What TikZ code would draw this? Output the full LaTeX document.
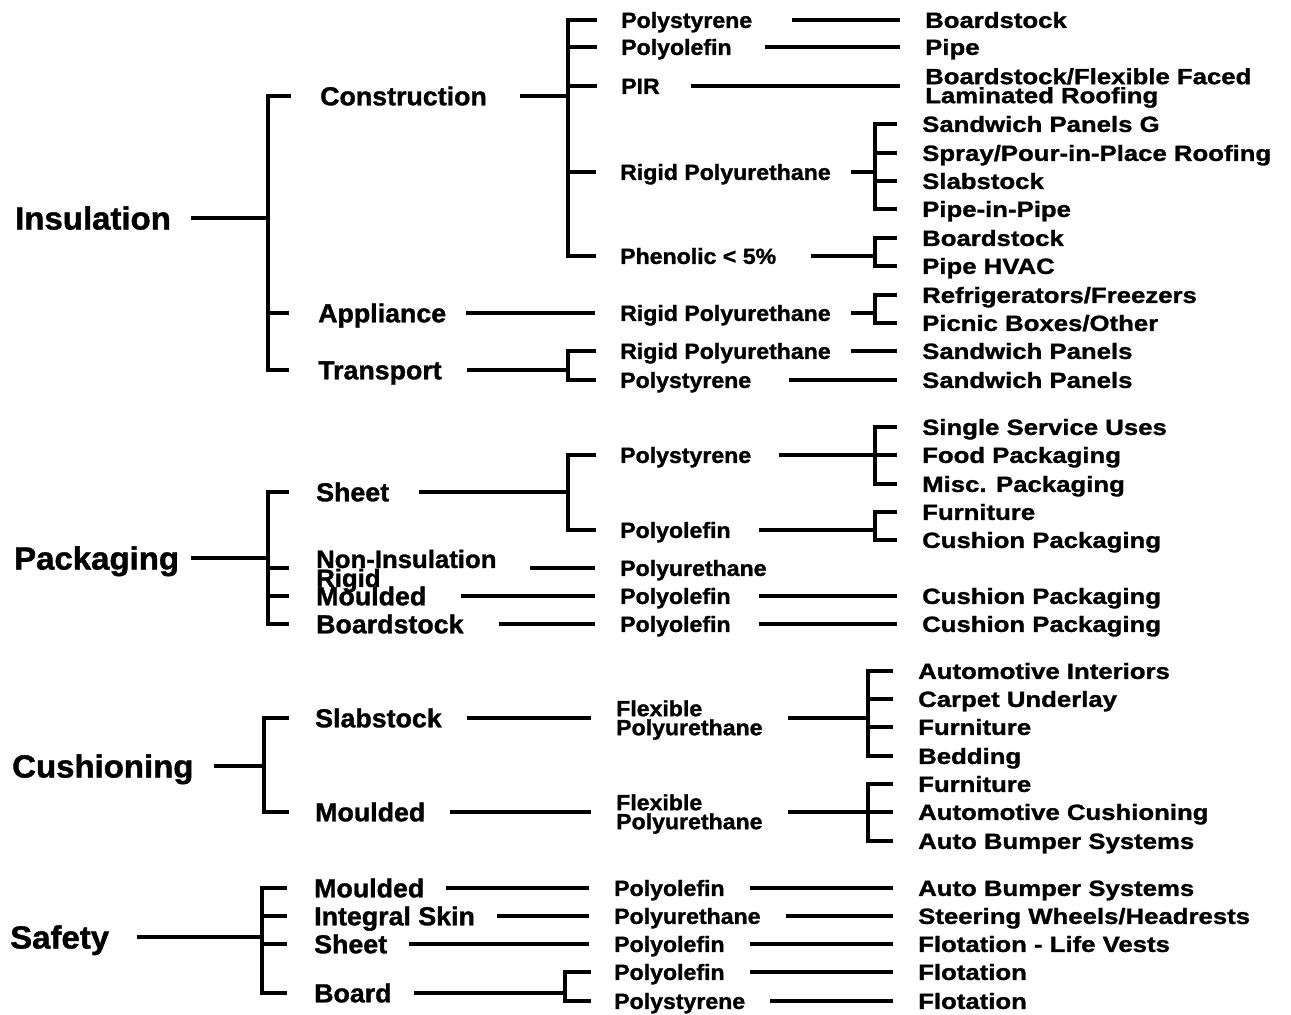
\documentclass[tikz,border=0pt]{standalone}
\usepackage{fontspec}
\newfontfamily\fA{Liberation Sans}[FakeStretch=1.03,BoldFeatures={FakeBold=1.3}]
\newfontfamily\fC{Liberation Sans}[FakeStretch=1.05,BoldFeatures={FakeBold=1.3}]
\newfontfamily\fD{Liberation Sans}[FakeStretch=1.17,BoldFeatures={FakeBold=1.3}]
\begin{document}
\begin{tikzpicture}[x=1pt,y=-1pt,
  lone/.style={anchor=west,inner sep=0pt,font=\fA\bfseries\fontsize{32}{32}\selectfont,text height=23pt,text depth=0pt},
  ltwo/.style={anchor=west,inner sep=0pt,font=\fA\bfseries\fontsize{26}{26}\selectfont,text height=18.6pt,text depth=0pt},
  ltwom/.style={anchor=west,inner sep=0pt,align=left,font=\fA\bfseries\fontsize{25}{19}\selectfont},
  lthree/.style={anchor=west,inner sep=0pt,font=\fC\bfseries\fontsize{22}{22}\selectfont,text height=15.8pt,text depth=0pt},
  lthreem/.style={anchor=west,inner sep=0pt,align=left,font=\fC\bfseries\fontsize{22}{19}\selectfont},
  lfour/.style={anchor=west,inner sep=0pt,font=\fD\bfseries\fontsize{22}{22}\selectfont,text height=15.8pt,text depth=0pt},
  lfourm/.style={anchor=west,inner sep=0pt,align=left,font=\fD\bfseries\fontsize{22}{19}\selectfont},
  lw/.style={line width=3.2pt,black},
  bk/.style={lw,shorten <=#1pt,shorten >=#1pt}, bk/.default=25,
  tk/.style={lw,shorten >=#1pt}, tk/.default=25,
  pl/.style={lw,shorten <=#1pt}, pl/.default=25,
  lk/.style={lw,shorten <=#1pt,shorten >=25pt}, lk/.default=30
]
\useasboundingbox (0,0) rectangle (1291,1015);

% ================= Insulation =================
\coordinate (b1) at (268,0);
\coordinate (b2) at (568,0);
\coordinate (b3) at (875,0);
\node[lone] (ins) at (15,218) {Insulation};
\node[ltwo] (con) at (320,96) {Construction};
\node[ltwo] (app) at (318,313) {Appliance};
\node[ltwo] (tra) at (318,370) {Transport};
\node[lthree] (c1) at (621,20) {Polystyrene};
\node[lthree] (c2) at (621,47) {Polyolefin};
\node[lthree] (c3) at (621,86) {PIR};
\node[lthree] (c4) at (620,172) {Rigid Polyurethane};
\node[lthree] (c5) at (620,256) {Phenolic < 5\%};
\node[lfour] (d1) at (925,20) {Boardstock};
\node[lfour] (d2) at (925,47) {Pipe};
\node[lfourm] (d3) at (925,88) {Boardstock/Flexible Faced\\Laminated Roofing};
\node[lfour] (e1) at (922,124) {Sandwich Panels G};
\node[lfour] (e2) at (922,153) {Spray/Pour-in-Place Roofing};
\node[lfour] (e3) at (922,181) {Slabstock};
\node[lfour] (e4) at (922,209) {Pipe-in-Pipe};
\node[lfour] (f1) at (922,238) {Boardstock};
\node[lfour] (f2) at (922,266) {Pipe HVAC};
\node[lthree] (a1) at (620,313) {Rigid Polyurethane};
\node[lfour] (g1) at (922,295) {Refrigerators/Freezers};
\node[lfour] (g2) at (922,323) {Picnic Boxes/Other};
\node[lthree] (t1) at (620,351) {Rigid Polyurethane};
\node[lthree] (t2) at (620,380) {Polystyrene};
\node[lfour] (h1) at (922,351) {Sandwich Panels};
\node[lfour] (h2) at (922,380) {Sandwich Panels};

\draw[pl=20] (ins.east) -- (ins.east -| b1);
\draw[bk=29] (con.west) -- (con.west -| b1) -- (tra.west -| b1) -- (tra.west);
\draw[tk=29] (app.west -| b1) -- (app.west);
\draw[pl=33] (con.east) -- (con.east -| b2);
\draw[bk=24] (c1.west) -- (c1.west -| b2) -- (c5.west -| b2) -- (c5.west);
\foreach \n in {c2,c3,c4} \draw[tk=24] (\n.west -| b2) -- (\n.west);
\draw[lk=40] (c1.east) -- (d1.west);
\draw[lk=33] (c2.east) -- (d2.west);
\draw[lk=31] (c3.east) -- (c3.east -| d3.west);
\draw[pl=20] (c4.east) -- (c4.east -| b3);
\draw[bk] (e1.west) -- (e1.west -| b3) -- (e4.west -| b3) -- (e4.west);
\foreach \n in {e2,e3} \draw[tk] (\n.west -| b3) -- (\n.west);
\draw[pl=35] (c5.east) -- (c5.east -| b3);
\draw[bk] (f1.west) -- (f1.west -| b3) -- (f2.west -| b3) -- (f2.west);
\draw[lk=20] (app.east) -- (a1.west);
\draw[pl=20] (a1.east) -- (a1.east -| b3);
\draw[bk] (g1.west) -- (g1.west -| b3) -- (g2.west -| b3) -- (g2.west);
\draw[pl=25] (tra.east) -- (tra.east -| b2);
\draw[bk=24] (t1.west) -- (t1.west -| b2) -- (t2.west -| b2) -- (t2.west);
\draw[lk=20] (t1.east) -- (h1.west);
\draw[lk=38] (t2.east) -- (h2.west);

% ================= Packaging =================
\node[lone] (pac) at (14,558) {Packaging};
\node[ltwo] (she) at (316,492) {Sheet};
\node[ltwom] (non) at (316,571) {Non-Insulation\\Rigid};
\node[ltwo] (mou) at (316,596) {Moulded};
\node[ltwo] (boa) at (316,624) {Boardstock};
\node[lthree] (p1) at (620,455) {Polystyrene};
\node[lthree] (p2) at (620,530) {Polyolefin};
\node[lthree] (p3) at (620,568) {Polyurethane};
\node[lthree] (p4) at (620,596) {Polyolefin};
\node[lthree] (p5) at (620,624) {Polyolefin};
\node[lfour] (q1) at (922,427) {Single Service Uses};
\node[lfour] (q2) at (922,455) {Food Packaging};
\node[lfour] (q3) at (922,484) {Misc. Packaging};
\node[lfour] (q4) at (922,512) {Furniture};
\node[lfour] (q5) at (922,540) {Cushion Packaging};
\node[lfour] (q6) at (922,596) {Cushion Packaging};
\node[lfour] (q7) at (922,624) {Cushion Packaging};

\draw[pl=12] (pac.east) -- (pac.east -| b1);
\draw[bk=27] (she.west) -- (she.west -| b1) -- (boa.west -| b1) -- (boa.west);
\draw[tk=27] (p3.west -| b1) -- (p3.west -| non.west);
\draw[tk=27] (mou.west -| b1) -- (mou.west);
\draw[pl=30] (she.east) -- (she.east -| b2);
\draw[bk=24] (p1.west) -- (p1.west -| b2) -- (p2.west -| b2) -- (p2.west);
\draw[pl=28] (p1.east) -- (p1.east -| b3);
\draw[bk] (q1.west) -- (q1.west -| b3) -- (q3.west -| b3) -- (q3.west);
\draw[tk] (q2.west -| b3) -- (q2.west);
\draw[pl=28] (p2.east) -- (p2.east -| b3);
\draw[bk] (q4.west) -- (q4.west -| b3) -- (q5.west -| b3) -- (q5.west);
\draw[lk=33] (p3.west -| non.east) -- (p3.west);
\draw[lk=35] (mou.east) -- (p4.west);
\draw[lk=35] (boa.east) -- (p5.west);
\draw[lk=28] (p4.east) -- (q6.west);
\draw[lk=28] (p5.east) -- (q7.west);

% ================= Cushioning =================
\coordinate (b1c) at (264,0);
\coordinate (b3c) at (868,0);
\node[lone] (cus) at (12,766) {Cushioning};
\node[ltwo] (sla) at (315,718) {Slabstock};
\node[ltwo] (mo2) at (315,812) {Moulded};
\node[lthreem] (fx1) at (616,720) {Flexible\\Polyurethane};
\node[lthreem] (fx2) at (616,814) {Flexible\\Polyurethane};
\node[lfour] (r1) at (918,671) {Automotive Interiors};
\node[lfour] (r2) at (918,699) {Carpet Underlay};
\node[lfour] (r3) at (918,727) {Furniture};
\node[lfour] (r4) at (918,756) {Bedding};
\node[lfour] (s1) at (918,784) {Furniture};
\node[lfour] (s2) at (918,812) {Automotive Cushioning};
\node[lfour] (s3) at (918,841) {Auto Bumper Systems};

\draw[pl=20] (cus.east) -- (cus.east -| b1c);
\draw[bk=26] (sla.west) -- (sla.west -| b1c) -- (mo2.west -| b1c) -- (mo2.west);
\draw[lk=25] (sla.east) -- (sla.east -| fx1.west);
\draw[lk=25] (mo2.east) -- (mo2.east -| fx2.west);
\draw[pl=25] (sla.east -| fx1.east) -- (sla.east -| b3c);
\draw[bk] (r1.west) -- (r1.west -| b3c) -- (r4.west -| b3c) -- (r4.west);
\foreach \n in {r2,r3} \draw[tk] (\n.west -| b3c) -- (\n.west);
\draw[pl=25] (mo2.east -| fx2.east) -- (mo2.east -| b3c);
\draw[bk] (s1.west) -- (s1.west -| b3c) -- (s3.west -| b3c) -- (s3.west);
\draw[tk] (s2.west -| b3c) -- (s2.west);

% ================= Safety =================
\coordinate (b1s) at (262,0);
\coordinate (b2s) at (565,0);
\node[lone] (saf) at (10,937) {Safety};
\node[ltwo] (sm) at (314,888) {Moulded};
\node[ltwo] (si) at (314,916) {Integral Skin};
\node[ltwo] (ss) at (314,944) {Sheet};
\node[ltwo] (sb) at (314,993) {Board};
\node[lthree] (u1) at (614,888) {Polyolefin};
\node[lthree] (u2) at (614,916) {Polyurethane};
\node[lthree] (u3) at (614,944) {Polyolefin};
\node[lthree] (u4) at (614,972) {Polyolefin};
\node[lthree] (u5) at (614,1001) {Polystyrene};
\node[lfour] (v1) at (918,888) {Auto Bumper Systems};
\node[lfour] (v2) at (918,916) {Steering Wheels/Headrests};
\node[lfour] (v3) at (918,944) {Flotation - Life Vests};
\node[lfour] (v4) at (918,972) {Flotation};
\node[lfour] (v5) at (918,1001) {Flotation};

\draw[pl=28] (saf.east) -- (saf.east -| b1s);
\draw[bk=27] (sm.west) -- (sm.west -| b1s) -- (sb.west -| b1s) -- (sb.west);
\foreach \n in {si,ss} \draw[tk=27] (\n.west -| b1s) -- (\n.west);
\foreach \a/\b in {sm/u1,si/u2,ss/u3} \draw[lk=22] (\a.east) -- (\b.west);
\draw[pl=22] (sb.east) -- (sb.east -| b2s);
\draw[bk=23] (u4.west) -- (u4.west -| b2s) -- (u5.west -| b2s) -- (u5.west);
\foreach \a/\b in {u1/v1,u2/v2,u3/v3,u4/v4,u5/v5} \draw[lk=25] (\a.east) -- (\b.west);
\end{tikzpicture}
\end{document}
